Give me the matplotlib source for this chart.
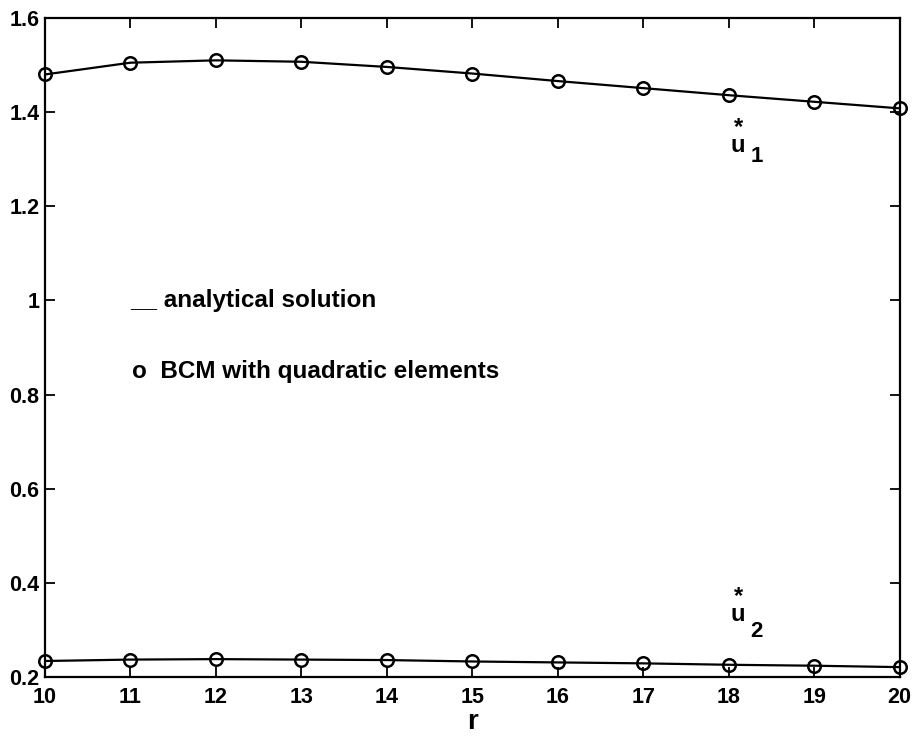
import matplotlib.pyplot as plt

# valores
r = [10, 11, 12, 13, 14, 15, 16, 17, 18, 19, 20]
u1 = [1.480, 1.505, 1.510, 1.507, 1.496, 1.482, 1.466, 1.451, 1.436, 1.422, 1.408]
u2 = [0.234, 0.237, 0.238, 0.237, 0.236, 0.233, 0.231, 0.229, 0.226, 0.224, 0.221]
yticks = [0.2, 0.4, 0.6, 0.8, 1.0, 1.2, 1.4, 1.6]
ylabels = ['0.2', '0.4', '0.6', '0.8', '1', '1.2', '1.4', '1.6']

plt.rcParams['font.family'] = ['Liberation Sans', 'DejaVu Sans']

fig = plt.figure(figsize=(9.17, 7.37), dpi=100)
ax = fig.add_axes([0.049, 0.0814, 0.932, 0.8942])

for serie in (u1, u2):
    ax.plot(r, serie, color='black', lw=1.6)
    ax.plot(r, serie, 'o', mfc='none', mec='black', ms=9, mew=1.8, clip_on=False)

ax.set_xlim(10, 20)
ax.set_ylim(0.2, 1.6)
ax.set_xticks(r)
ax.set_yticks(yticks)
ax.set_yticklabels(ylabels)
ax.tick_params(direction='in', top=True, right=True, length=7, width=1.3, labelsize=15.5)
ax.tick_params(axis='x', pad=7)
ax.tick_params(axis='y', pad=4)
for lab in ax.get_xticklabels() + ax.get_yticklabels():
    lab.set_fontweight('bold')
for s in ax.spines.values():
    s.set_linewidth(1.6)

ax.set_xlabel('r', fontsize=20, fontweight='bold', labelpad=1)

# rotulos das curvas: asterisco em cima do u, indice a direita
ax.text(18.11, 1.348, '*\nu', fontsize=17, fontweight='bold', ha='center', va='center',
        multialignment='center', linespacing=0.75)
ax.text(18.33, 1.305, '1', fontsize=16, fontweight='bold', ha='center', va='center')
ax.text(18.11, 0.352, '*\nu', fontsize=17, fontweight='bold', ha='center', va='center',
        multialignment='center', linespacing=0.75)
ax.text(18.33, 0.296, '2', fontsize=16, fontweight='bold', ha='center', va='center')

# legenda em texto
ax.text(11.0, 1.0, '__ analytical solution', fontsize=17.5, fontweight='bold', va='center')
ax.text(11.02, 0.85, 'o  BCM with quadratic elements', fontsize=17.5, fontweight='bold', va='center')

fig.savefig('out.png', dpi=100)
